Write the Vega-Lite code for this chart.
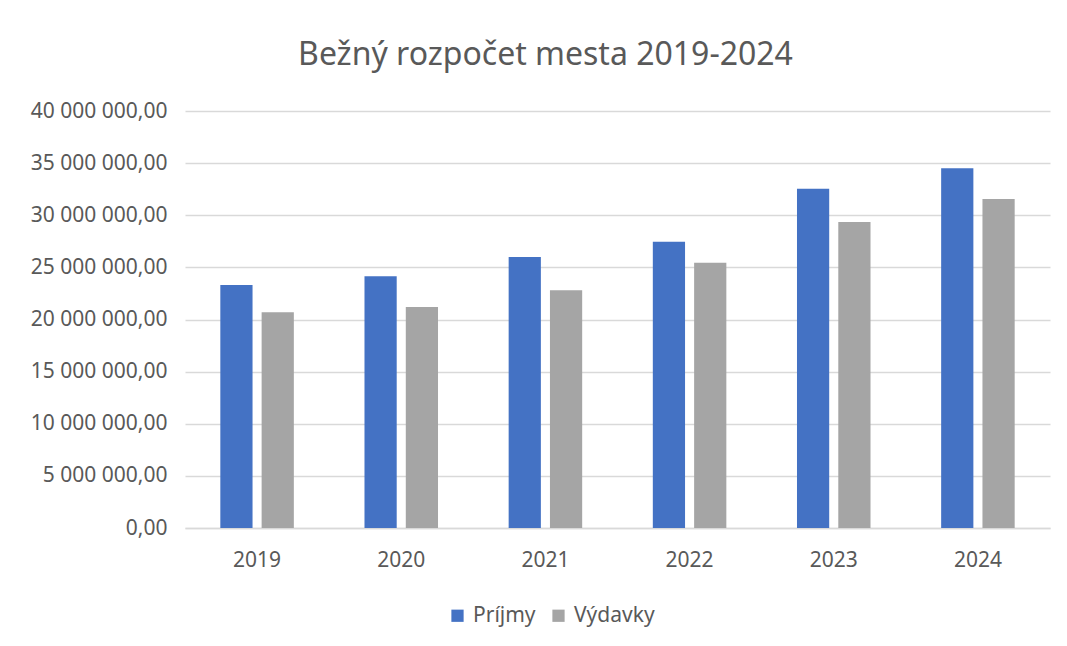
{
  "$schema": "https://vega.github.io/schema/vega-lite/v6.json",
  "autosize": {"type": "none"},
  "width": 865,
  "height": 417,
  "padding": {"left": 185, "top": 111, "right": 17, "bottom": 118},
  "background": "white",
  "config": {
    "locale": {"number": {"decimal": ",", "thousands": " ", "grouping": [3], "currency": ["", ""]}},
    "view": {"stroke": null},
    "font": "Noto Sans"
  },
  "title": {
    "text": "Bežný rozpočet mesta 2019-2024",
    "fontSize": 32,
    "fontWeight": "normal",
    "color": "#595959",
    "font": "Noto Sans",
    "anchor": "middle",
    "dx": -72,
    "offset": 28
  },
  "data": {
    "values": [
      {"rok": "2019", "typ": "Príjmy", "suma": 23300000},
      {"rok": "2019", "typ": "Výdavky", "suma": 20700000},
      {"rok": "2020", "typ": "Príjmy", "suma": 24150000},
      {"rok": "2020", "typ": "Výdavky", "suma": 21200000},
      {"rok": "2021", "typ": "Príjmy", "suma": 26000000},
      {"rok": "2021", "typ": "Výdavky", "suma": 22800000},
      {"rok": "2022", "typ": "Príjmy", "suma": 27450000},
      {"rok": "2022", "typ": "Výdavky", "suma": 25450000},
      {"rok": "2023", "typ": "Príjmy", "suma": 32550000},
      {"rok": "2023", "typ": "Výdavky", "suma": 29350000},
      {"rok": "2024", "typ": "Príjmy", "suma": 34500000},
      {"rok": "2024", "typ": "Výdavky", "suma": 31550000}
    ]
  },
  "mark": {"type": "bar"},
  "encoding": {
    "x": {
      "field": "rok",
      "type": "nominal",
      "title": null,
      "scale": {"paddingInner": 0.49, "paddingOuter": 0.245},
      "axis": {
        "labelAngle": 0,
        "labelFontSize": 21,
        "labelColor": "#595959",
        "labelPadding": 21,
        "ticks": false,
        "domainColor": "#d9d9d9",
        "domainWidth": 1.5,
        "grid": false
      }
    },
    "xOffset": {
      "field": "typ",
      "type": "nominal",
      "scale": {"paddingInner": 0.22, "paddingOuter": 0}
    },
    "y": {
      "field": "suma",
      "type": "quantitative",
      "title": null,
      "scale": {"domain": [0, 40000000]},
      "axis": {
        "values": [0, 5000000, 10000000, 15000000, 20000000, 25000000, 30000000, 35000000, 40000000],
        "format": ",.2f",
        "labelFontSize": 21,
        "labelColor": "#595959",
        "labelPadding": 18,
        "ticks": false,
        "domain": false,
        "gridColor": "#d9d9d9",
        "gridWidth": 1.5
      }
    },
    "color": {
      "field": "typ",
      "type": "nominal",
      "scale": {"domain": ["Príjmy", "Výdavky"], "range": ["#4472C4", "#A5A5A5"]},
      "legend": {
        "title": null,
        "orient": "none",
        "direction": "horizontal",
        "legendX": 262,
        "legendY": 494,
        "symbolType": "square",
        "symbolSize": 150,
        "symbolStrokeWidth": 0,
        "labelFontSize": 21,
        "labelColor": "#595959",
        "columnPadding": 12,
        "labelOffset": 5
      }
    }
  }
}
